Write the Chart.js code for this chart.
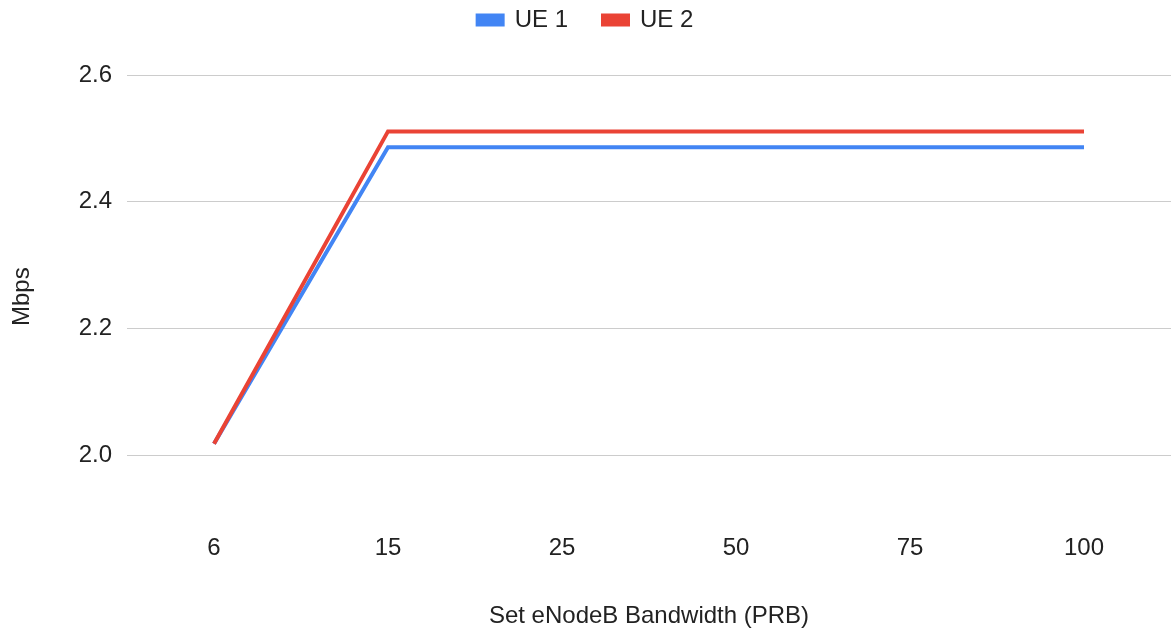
<!DOCTYPE html>
<html>
<head>
<meta charset="utf-8">
<script src="https://cdn.jsdelivr.net/npm/chart.js@4"></script>
<style>
html,body{margin:0;padding:0;background:#fff;}
#c{display:block;}
</style>
</head>
<body>
<canvas id="c" width="1171" height="631"></canvas>
<script>
const categories = ['6', '15', '25', '50', '75', '100'];
const ue1 = [2.018, 2.486, 2.486, 2.486, 2.486, 2.486];
const ue2 = [2.018, 2.511, 2.511, 2.511, 2.511, 2.511];
const yTicks = [2.0, 2.2, 2.4, 2.6];
const yMin = 1.9, yMax = 2.6;

const FONT = "'Liberation Sans', Arial, sans-serif";
const TXT = '#222222';

const legendFitPlugin = {
  id: 'legendFit',
  afterInit(chart) {
    const lg = chart.legend;
    if (lg && !lg._wrapped) {
      const orig = lg.fit;
      lg.fit = function () { orig.call(this); this.height = 102; };
      lg._wrapped = true;
    }
  }
};

new Chart(document.getElementById('c'), {
  type: 'line',
  data: {
    labels: categories,
    datasets: [
      { label: 'UE 1', data: ue1, borderColor: '#4285F4', backgroundColor: '#4285F4', borderWidth: 4, pointRadius: 0, pointHoverRadius: 0, tension: 0, order: 1 },
      { label: 'UE 2', data: ue2, borderColor: '#EA4335', backgroundColor: '#EA4335', borderWidth: 4, pointRadius: 0, pointHoverRadius: 0, tension: 0, order: 0 }
    ]
  },
  options: {
    responsive: false,
    animation: false,
    devicePixelRatio: 1,
    layout: { padding: { top: -27, left: 0, right: 0, bottom: 0 } },
    plugins: {
      legend: {
        position: 'top',
        align: 'center',
        labels: {
          boxWidth: 25, boxHeight: 9, padding: 35, color: TXT, font: { family: FONT, size: 24 },
          sort: (a, b) => a.datasetIndex - b.datasetIndex
        }
      },
      tooltip: { enabled: false }
    },
    scales: {
      x: {
        offset: true,
        grid: { display: false, drawTicks: false },
        border: { display: false },
        ticks: { color: TXT, padding: 16, font: { family: FONT, size: 24 }, maxRotation: 0, autoSkip: false },
        title: { display: true, text: 'Set eNodeB Bandwidth (PRB)', color: TXT, font: { family: FONT, size: 24 }, padding: { top: 23, bottom: 0 } }
      },
      y: {
        min: yMin,
        max: yMax,
        afterBuildTicks(scale) { scale.ticks = yTicks.map(v => ({ value: v })); },
        afterFit(scale) { scale.width = 127; },
        grid: { color: '#cccccc', lineWidth: 1, drawTicks: false },
        border: { display: false },
        ticks: { color: TXT, padding: 15, font: { family: FONT, size: 24 }, callback: v => Number(v).toFixed(1) },
        title: { display: true, text: 'Mbps', color: TXT, font: { family: FONT, size: 24 }, padding: { top: 8, bottom: 0 } }
      }
    }
  },
  plugins: [legendFitPlugin]
});
</script>
</body>
</html>
